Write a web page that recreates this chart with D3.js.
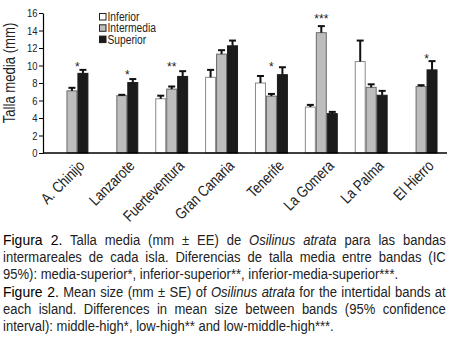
<!DOCTYPE html>
<html lang="es">
<head>
<meta charset="UTF-8">
<title>Talla media</title>
<script src="https://d3js.org/d3.v7.min.js"></script>
<style>
    body { margin: 0; background: #fff; }
    #caption {
        position: absolute; left: 3px; top: 231px; width: 476px;
        transform: scaleX(0.93); transform-origin: 0 0;
        font-family: "Liberation Sans", Arial, sans-serif;
        font-size: 14px; line-height: 17px; color: #222;
    }
    #caption .ln { text-align: justify; text-align-last: justify; white-space: nowrap; }
    #caption .last { text-align-last: left; }
    #caption .fig { color: #000; font-size: 15px; }
</style>
</head>
<body>
<script>
    var width = 449;
    var height = 347;

    // islands and mean size (mm) per intertidal band, null = no data
    var islands = ["A. Chinijo", "Lanzarote", "Fuerteventura", "Gran Canaria", "Tenerife", "La Gomera", "La Palma", "El Hierro"];
    var bands = ["Inferior", "Intermedia", "Superior"];
    var inferior = [null, null, 6.2, 8.65, 8.0, 5.25, 10.45, null];
    var intermedia = [7.1, 6.55, 7.3, 11.3, 6.5, 13.75, 7.5, 7.6];
    var superior = [9.1, 8.05, 8.75, 12.25, 8.95, 4.5, 6.6, 9.5];
    var inferiorSE = [null, null, 0.35, 0.85, 0.8, 0.25, 2.4, null];
    var intermediaSE = [0.35, 0.1, 0.3, 0.45, 0.25, 0.75, 0.35, 0.15];
    var superiorSE = [0.4, 0.4, 0.6, 0.6, 0.85, 0.2, 0.5, 1.0];
    var signif = ["*", "*", "**", "", "*", "***", "", "*"];
    var signifLevel = [10.1, 9.2, 10.1, null, 10.1, 15.5, null, 11.0];
    var yTicks = [0, 2, 4, 6, 8, 10, 12, 14, 16];

    var fills = {"Inferior": "#ffffff", "Intermedia": "#bdbdbd", "Superior": "#1b1b1b"};
    var strokes = {"Inferior": "#8a8a8a", "Intermedia": "#6a6a6a", "Superior": "#1b1b1b"};
    var font = '"Liberation Sans", Arial, sans-serif';
    var narrow = " scale(0.82,1)";   // no narrow face installed, squeeze instead

    var svg = d3.select("body").append("svg")
        .attr("width", width)
        .attr("height", 228)
        .style("position", "absolute").style("left", 0).style("top", 0);

    var x0 = d3.scaleBand()
        .domain(islands)
        .range([47, 446])
        .paddingInner(0.34)
        .paddingOuter(0.17);

    var x1 = d3.scaleBand()
        .domain(bands)
        .range([0, x0.bandwidth()]);

    var y = d3.scaleLinear()
        .domain([0, 16])
        .range([153, 13]);

    var rows = [];
    islands.forEach(function (isl, i) {
        [[inferior, inferiorSE], [intermedia, intermediaSE], [superior, superiorSE]].forEach(function (s, j) {
            if (s[0][i] != null) {
                rows.push({island: isl, band: bands[j], v: s[0][i], se: s[1][i]});
            }
        });
    });

    // bars
    svg.append("g").selectAll("rect")
        .data(rows)
        .join("rect")
        .attr("x", d => x0(d.island) + x1(d.band) + 0.5)
        .attr("y", d => y(d.v))
        .attr("width", x1.bandwidth() - 1)
        .attr("height", d => y(0) - y(d.v))
        .attr("fill", d => fills[d.band])
        .attr("stroke", d => strokes[d.band])
        .attr("stroke-width", 1);

    // error bars (upper only)
    var err = svg.append("g").attr("stroke", "#111").attr("stroke-width", 2);
    rows.forEach(function (d) {
        var cx = x0(d.island) + x1(d.band) + x1.bandwidth() / 2;
        err.append("line")
            .attr("x1", cx).attr("x2", cx)
            .attr("y1", y(d.v)).attr("y2", y(d.v + d.se));
        err.append("line")
            .attr("x1", cx - 3.5).attr("x2", cx + 3.5)
            .attr("y1", y(d.v + d.se)).attr("y2", y(d.v + d.se));
    });

    // significance stars
    svg.append("g").selectAll("text")
        .data(islands.filter((d, i) => signif[i] != ""))
        .join("text")
        .attr("x", function (d) {
            var i = islands.indexOf(d);
            return signif[i] == "*" && d != "Tenerife" ? x0(d) + x1("Superior") : x0(d) + x0.bandwidth() / 2;
        })
        .attr("y", d => y(signifLevel[islands.indexOf(d)]) + 6)
        .attr("text-anchor", "middle")
        .attr("font-family", font)
        .attr("font-size", "12px")
        .attr("fill", "#222")
        .text(d => signif[islands.indexOf(d)]);

    // y axis
    var yAxis = svg.append("g")
        .attr("transform", "translate(43,0)")
        .call(d3.axisLeft(y).tickValues(yTicks).tickSize(4).tickSizeOuter(0));
    yAxis.select(".domain").attr("stroke", "#000").attr("stroke-width", 1.2);
    yAxis.selectAll(".tick line").attr("stroke", "#000");
    yAxis.selectAll(".tick text")
        .attr("font-family", font)
        .attr("font-size", "11.5px")
        .attr("fill", "#222")
        .attr("x", null)
        .attr("transform", "translate(-5.5,0)" + narrow);

    // x axis line
    svg.append("line")
        .attr("x1", 43).attr("x2", 447)
        .attr("y1", y(0)).attr("y2", y(0))
        .attr("stroke", "#000").attr("stroke-width", 1.5);

    // x labels
    svg.append("g").selectAll("text")
        .data(islands)
        .join("text")
        .attr("transform", d => "translate(" + (x0(d) + x0.bandwidth() / 2 + 6) + "," + 159 + ") rotate(-45)" + narrow)
        .attr("text-anchor", "end")
        .attr("dy", "0.7em")
        .attr("font-family", font)
        .attr("font-size", "15.5px")
        .attr("fill", "#222")
        .text(d => d);

    svg.append("text")
        .attr("transform", "translate(15," + 73 + ") rotate(-90)" + narrow)
        .attr("text-anchor", "middle")
        .attr("font-family", font)
        .attr("font-size", "16px")
        .attr("fill", "#222")
        .text("Talla media (mm)");

    // legend
    var legend = svg.append("g");
    bands.forEach(function (b, i) {
        legend.append("rect")
            .attr("x", 99.5).attr("y", 13.5 + i * 11.3)
            .attr("width", 6.5).attr("height", 6.5)
            .attr("fill", fills[b])
            .attr("stroke", b == "Superior" ? "#1b1b1b" : "#222");
        legend.append("text")
            .attr("transform", "translate(107.5," + (21 + i * 11.3) + ")" + narrow)
            .attr("font-family", font)
            .attr("font-size", "12.5px")
            .attr("fill", "#222")
            .text(b);
    });

    // caption
    var cap = d3.select("body").append("div").attr("id", "caption");
    var lines = [
        ['<span class="fig">Figura 2.</span> Talla media (mm ± EE) de <i>Osilinus atrata</i> para las bandas', ""],
        ["intermareales de cada isla. Diferencias de talla media entre bandas (IC", ""],
        ["95%): media-superior*, inferior-superior**, inferior-media-superior***.", "last"],
        ['<span class="fig">Figure 2.</span> Mean size (mm ± SE) of <i>Osilinus atrata</i> for the intertidal bands at', ""],
        ["each island. Differences in mean size between bands (95% confidence", ""],
        ["interval): middle-high*, low-high** and low-middle-high***.", "last"]
    ];
    lines.forEach(function (l) {
        cap.append("div").attr("class", "ln " + l[1]).html(l[0]);
    });
</script>
</body>
</html>
